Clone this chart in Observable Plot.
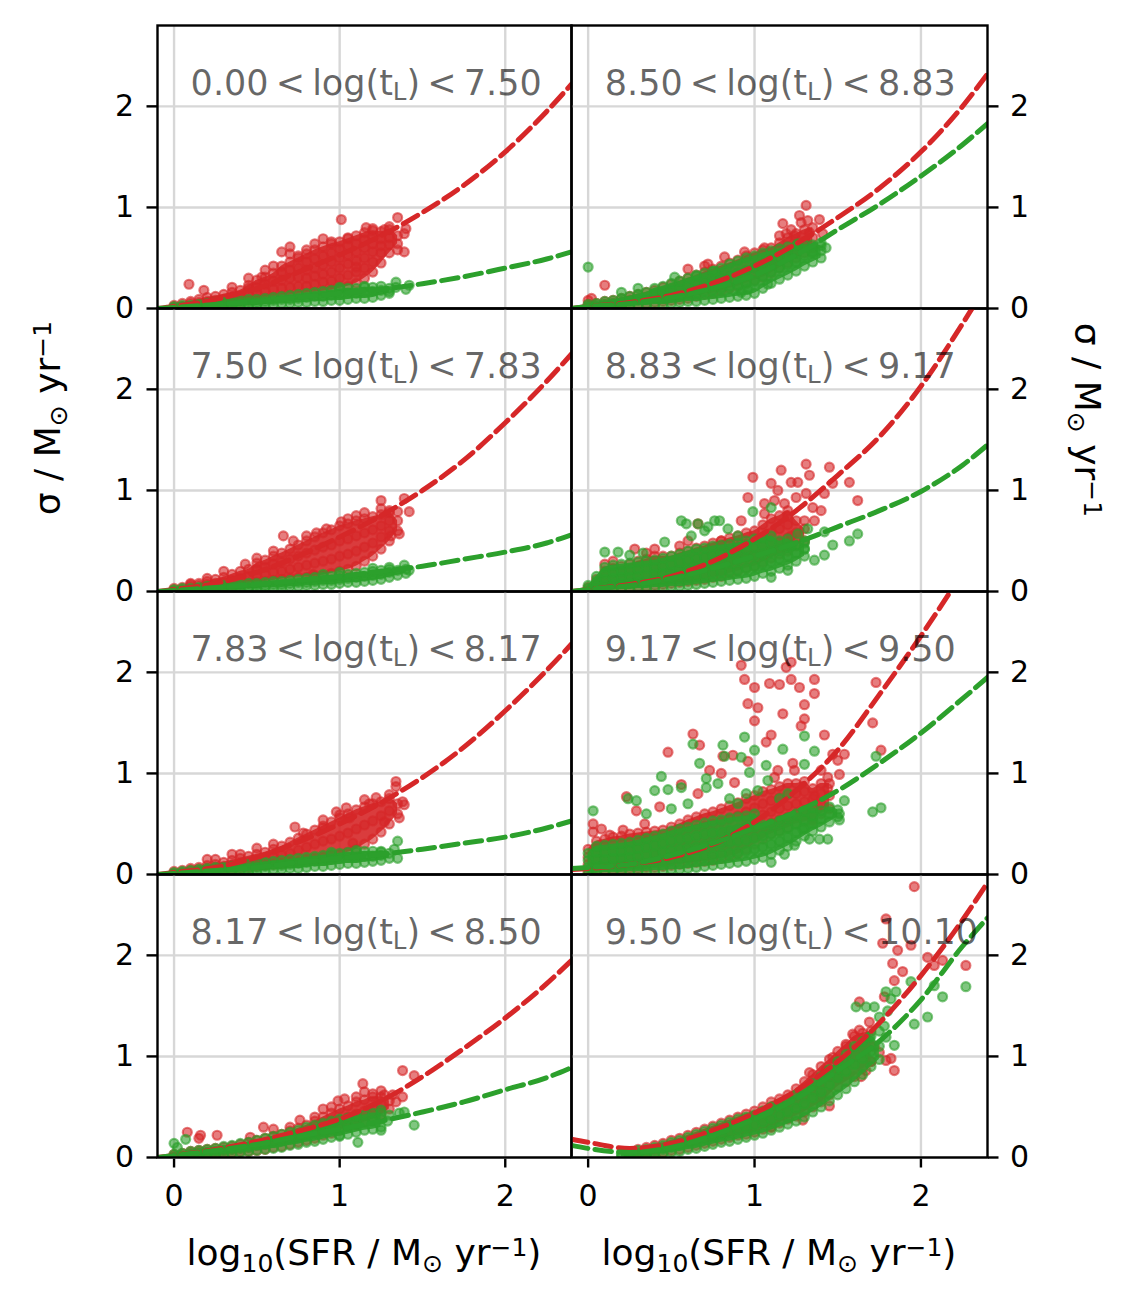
<!DOCTYPE html>
<html><head><meta charset="utf-8">
<script src="https://cdn.jsdelivr.net/npm/d3@7"></script>
<script src="https://cdn.jsdelivr.net/npm/@observablehq/plot@0.6"></script>
<style>
body{margin:0;background:#fff;}
#fig{position:relative;width:1135px;height:1302px;background:#fff;overflow:hidden;font-family:"DejaVu Sans",sans-serif;}
#fig svg [aria-label^="x-axis"] line,#fig svg [aria-label^="x-axis"] path,#fig svg [aria-label^="y-axis"] line,#fig svg [aria-label^="y-axis"] path{stroke-width:2.4px;}
</style></head><body><div id="fig"></div>
<script>
const RED = "#d62728", GREEN = "#2ca02c";
const xTicks = [0, 1, 2];
const yTicks = [0, 1, 2];
const binLow = ["0.00", "7.50", "7.83", "8.17", "8.50", "8.83", "9.17", "9.50"];
const binHigh = ["7.50", "7.83", "8.17", "8.50", "8.83", "9.17", "9.50", "10.10"];

// dashed fit curves, read at these x positions
const lineX = [-0.1, 0, 0.25, 0.5, 0.75, 1, 1.25, 1.5, 1.75, 2, 2.25, 2.4];
const redFitY = [
  [0.0, 0.02, 0.09, 0.2, 0.36, 0.53, 0.72, 0.95, 1.22, 1.55, 1.95, 2.22],
  [0.0, 0.02, 0.08, 0.19, 0.35, 0.54, 0.75, 1.0, 1.3, 1.67, 2.08, 2.35],
  [0.0, 0.02, 0.07, 0.17, 0.32, 0.5, 0.71, 0.96, 1.26, 1.62, 2.02, 2.28],
  [0.0, 0.02, 0.08, 0.16, 0.26, 0.38, 0.56, 0.8, 1.08, 1.38, 1.72, 1.95],
  [0.0, 0.02, 0.06, 0.13, 0.25, 0.42, 0.64, 0.9, 1.19, 1.55, 2.0, 2.32],
  [0.0, 0.02, 0.07, 0.15, 0.3, 0.52, 0.8, 1.15, 1.53, 2.03, 2.65, 3.05],
  [0.05, 0.06, 0.1, 0.17, 0.3, 0.52, 0.83, 1.23, 1.78, 2.36, 2.99, 3.4],
  [0.18, 0.15, 0.09, 0.14, 0.27, 0.44, 0.66, 0.95, 1.33, 1.8, 2.35, 2.72]
];
const greenFitY = [
  [0.0, 0.01, 0.04, 0.07, 0.11, 0.15, 0.19, 0.245, 0.315, 0.4, 0.49, 0.56],
  [0.0, 0.01, 0.04, 0.07, 0.11, 0.15, 0.2, 0.25, 0.32, 0.39, 0.48, 0.56],
  [0.0, 0.01, 0.04, 0.07, 0.12, 0.16, 0.2, 0.25, 0.31, 0.37, 0.46, 0.53],
  [0.0, 0.02, 0.07, 0.13, 0.21, 0.28, 0.36, 0.45, 0.55, 0.67, 0.79, 0.89],
  [0.0, 0.02, 0.05, 0.11, 0.2, 0.33, 0.53, 0.78, 1.03, 1.31, 1.62, 1.83],
  [0.0, 0.02, 0.06, 0.13, 0.23, 0.35, 0.48, 0.64, 0.8, 0.99, 1.25, 1.45],
  [0.06, 0.07, 0.1, 0.19, 0.31, 0.46, 0.62, 0.83, 1.1, 1.4, 1.74, 1.95],
  [0.12, 0.09, 0.05, 0.1, 0.22, 0.38, 0.58, 0.86, 1.15, 1.56, 2.09, 2.37]
];

// dense scatter clouds: each row is [x, y1, y2, ...]
const redCloud = [
  [[0,0.01,0.03],[0.05,0.02,0.05],[0.1,0.02,0.05,0.07],[0.15,0.03,0.06,0.09],[0.2,0.04,0.07,0.11],[0.25,0.04,0.08,0.12],[0.3,0.05,0.09,0.14],[0.35,0.06,0.11,0.16],[0.4,0.07,0.12,0.18],[0.45,0.08,0.14,0.2,0.23],[0.5,0.09,0.15,0.21,0.28],[0.55,0.1,0.17,0.24,0.31],[0.6,0.11,0.19,0.27,0.35],[0.65,0.12,0.2,0.28,0.36,0.42],[0.7,0.13,0.21,0.3,0.38,0.46],[0.75,0.14,0.22,0.31,0.4,0.5],[0.8,0.15,0.22,0.3,0.38,0.46,0.54],[0.85,0.16,0.24,0.32,0.4,0.49,0.58],[0.9,0.17,0.26,0.34,0.43,0.52,0.61],[0.95,0.18,0.27,0.36,0.46,0.55,0.64],[1,0.2,0.3,0.4,0.5,0.59,0.66],[1.05,0.22,0.33,0.44,0.53,0.62,0.69],[1.1,0.25,0.36,0.47,0.56,0.64,0.72],[1.15,0.3,0.4,0.5,0.6,0.68,0.75],[1.2,0.36,0.46,0.56,0.64,0.71,0.77],[1.25,0.45,0.55,0.62,0.69,0.76],[1.3,0.55,0.63,0.7,0.78],[1.35,0.64,0.72]],
  [[0,0.01,0.03],[0.05,0.02,0.04],[0.1,0.02,0.05,0.07],[0.15,0.03,0.06,0.08],[0.2,0.03,0.07,0.1],[0.25,0.04,0.08,0.12],[0.3,0.05,0.09,0.14],[0.35,0.06,0.11,0.17],[0.4,0.07,0.13,0.2],[0.45,0.08,0.15,0.22],[0.5,0.09,0.16,0.22,0.28],[0.55,0.1,0.17,0.24,0.31],[0.6,0.11,0.19,0.27,0.35],[0.65,0.12,0.2,0.29,0.38],[0.7,0.13,0.22,0.32,0.42],[0.75,0.14,0.24,0.35,0.46],[0.8,0.14,0.26,0.38,0.5],[0.85,0.15,0.28,0.41,0.54],[0.9,0.16,0.3,0.44,0.58],[0.95,0.18,0.32,0.46,0.61],[1,0.2,0.35,0.5,0.65],[1.05,0.22,0.37,0.52,0.67],[1.1,0.25,0.4,0.55,0.7],[1.15,0.3,0.44,0.58,0.72],[1.2,0.35,0.48,0.61,0.74],[1.25,0.42,0.54,0.65,0.76],[1.3,0.5,0.6,0.7,0.78],[1.35,0.6,0.7]],
  [[0,0.01,0.03],[0.05,0.02,0.04],[0.1,0.02,0.04,0.06],[0.15,0.03,0.05,0.07],[0.2,0.03,0.06,0.09],[0.25,0.04,0.07,0.1],[0.3,0.05,0.08,0.12],[0.35,0.05,0.09,0.14],[0.4,0.06,0.11,0.16],[0.45,0.07,0.12,0.18],[0.5,0.08,0.14,0.2],[0.55,0.09,0.16,0.22],[0.6,0.1,0.17,0.25],[0.65,0.11,0.19,0.28],[0.7,0.12,0.21,0.32],[0.75,0.13,0.24,0.36],[0.8,0.15,0.27,0.4],[0.85,0.16,0.3,0.44],[0.9,0.17,0.33,0.48],[0.95,0.19,0.35,0.52],[1,0.2,0.38,0.56],[1.05,0.22,0.41,0.6],[1.1,0.25,0.45,0.64],[1.15,0.3,0.49,0.67],[1.2,0.35,0.53,0.7],[1.25,0.42,0.58,0.72],[1.3,0.5,0.63,0.75],[1.35,0.6,0.7]],
  [[0,0.01,0.03],[0.05,0.02,0.04],[0.1,0.02,0.04,0.06],[0.15,0.02,0.05,0.07],[0.2,0.03,0.05,0.08],[0.25,0.03,0.06,0.09],[0.3,0.04,0.07,0.1],[0.35,0.05,0.08,0.11],[0.4,0.06,0.09,0.13],[0.45,0.06,0.1,0.15],[0.5,0.07,0.12,0.17],[0.55,0.08,0.13,0.19],[0.6,0.1,0.15,0.21],[0.65,0.11,0.17,0.23],[0.7,0.13,0.19,0.26],[0.75,0.15,0.21,0.29],[0.8,0.17,0.24,0.32],[0.85,0.19,0.27,0.36],[0.9,0.22,0.31,0.4],[0.95,0.24,0.34,0.44],[1,0.27,0.37,0.48],[1.05,0.3,0.4,0.51],[1.1,0.32,0.43,0.55],[1.15,0.35,0.46,0.57],[1.2,0.38,0.49,0.6],[1.25,0.42,0.52,0.6],[1.3,0.48,0.56]],
  [[0,0.01,0.04],[0.05,0.02,0.05],[0.1,0.02,0.04,0.07],[0.15,0.03,0.05,0.08],[0.2,0.03,0.06,0.1],[0.25,0.04,0.08,0.12],[0.3,0.04,0.09,0.14],[0.35,0.05,0.1,0.16],[0.4,0.06,0.12,0.18],[0.45,0.07,0.14,0.21],[0.5,0.08,0.16,0.24],[0.55,0.09,0.18,0.27],[0.6,0.1,0.2,0.3],[0.65,0.12,0.22,0.33],[0.7,0.14,0.25,0.36],[0.75,0.15,0.27,0.39],[0.8,0.17,0.29,0.42],[0.85,0.2,0.32,0.45],[0.9,0.22,0.35,0.48],[0.95,0.25,0.38,0.52],[1,0.28,0.41,0.55],[1.05,0.31,0.45,0.58],[1.1,0.35,0.48,0.6],[1.15,0.4,0.53,0.65],[1.2,0.45,0.58,0.7],[1.25,0.5,0.63,0.74],[1.3,0.55,0.67,0.78],[1.35,0.6,0.7,0.8]],
  [[0,0.01,0.04],[0.05,0.02,0.07,0.12],[0.1,0.03,0.09,0.15,0.2],[0.15,0.03,0.1,0.17,0.23],[0.2,0.04,0.11,0.18,0.25],[0.25,0.04,0.12,0.2,0.27],[0.3,0.05,0.13,0.21,0.3],[0.35,0.05,0.14,0.23,0.32],[0.4,0.06,0.15,0.25,0.35],[0.45,0.07,0.16,0.25,0.35],[0.5,0.08,0.17,0.26,0.35],[0.55,0.09,0.18,0.28,0.38],[0.6,0.1,0.2,0.3,0.4],[0.65,0.11,0.22,0.33,0.43],[0.7,0.12,0.23,0.34,0.45],[0.75,0.14,0.25,0.36,0.48],[0.8,0.15,0.27,0.39,0.5],[0.85,0.18,0.3,0.41,0.53],[0.9,0.2,0.32,0.44,0.55],[0.95,0.23,0.35,0.47,0.58],[1,0.25,0.37,0.49,0.6],[1.05,0.29,0.41,0.53,0.66],[1.1,0.33,0.45,0.58,0.72],[1.15,0.37,0.49,0.62,0.75],[1.2,0.4,0.53,0.66,0.8],[1.25,0.45,0.58,0.7],[1.3,0.5,0.62]],
  [[0,0.03,0.1,0.17,0.25],[0.05,0.04,0.11,0.18,0.26,0.33],[0.1,0.04,0.12,0.2,0.28,0.35],[0.15,0.05,0.13,0.21,0.29,0.37],[0.2,0.05,0.14,0.22,0.3,0.38],[0.25,0.06,0.14,0.23,0.31,0.4],[0.3,0.06,0.15,0.24,0.32,0.41],[0.35,0.07,0.16,0.25,0.33,0.42],[0.4,0.07,0.16,0.25,0.34,0.43],[0.45,0.08,0.17,0.26,0.35,0.44],[0.5,0.09,0.18,0.28,0.37,0.47],[0.55,0.1,0.2,0.3,0.4,0.5],[0.6,0.11,0.21,0.32,0.43,0.54],[0.65,0.12,0.23,0.34,0.45,0.57],[0.7,0.13,0.24,0.36,0.48,0.6],[0.75,0.14,0.26,0.38,0.5,0.62],[0.8,0.16,0.28,0.4,0.52,0.65],[0.85,0.18,0.3,0.42,0.55,0.68],[0.9,0.2,0.32,0.45,0.58,0.71],[0.95,0.25,0.37,0.5,0.62,0.75],[1,0.3,0.42,0.54,0.66,0.78],[1.05,0.35,0.47,0.59,0.7,0.82],[1.1,0.4,0.51,0.62,0.73,0.84],[1.15,0.43,0.54,0.65,0.76,0.87],[1.2,0.46,0.57,0.68,0.79,0.9],[1.25,0.5,0.6,0.7,0.8,0.9],[1.3,0.52,0.62,0.72,0.82,0.92],[1.35,0.55,0.65,0.75,0.85],[1.4,0.6,0.7,0.8,0.9],[1.45,0.65,0.78,0.9]],
  [[0.25,0.02,0.05],[0.3,0.02,0.05,0.08],[0.35,0.03,0.06,0.1],[0.4,0.04,0.08,0.12],[0.45,0.05,0.1,0.14],[0.5,0.07,0.12,0.17],[0.55,0.08,0.13,0.19],[0.6,0.1,0.16,0.22],[0.65,0.12,0.18,0.25],[0.7,0.14,0.21,0.28],[0.75,0.16,0.23,0.31],[0.8,0.18,0.26,0.34],[0.85,0.2,0.28,0.37],[0.9,0.22,0.31,0.4],[0.95,0.23,0.33,0.43],[1,0.25,0.35,0.46],[1.05,0.28,0.39,0.5],[1.1,0.3,0.42,0.55],[1.15,0.34,0.46,0.58],[1.2,0.38,0.5,0.62],[1.25,0.41,0.54,0.68],[1.3,0.45,0.59,0.75],[1.35,0.5,0.66,0.82],[1.4,0.55,0.72,0.9],[1.45,0.62,0.8,0.97],[1.5,0.7,0.87,1.05],[1.55,0.75,0.94,1.12],[1.6,0.8,1.0,1.2],[1.65,0.88,1.06,1.23],[1.7,0.95,1.1,1.25]]
];
const greenCloud = [
  [[0,0,0.02],[0.05,0.01,0.03],[0.1,0.01,0.03],[0.15,0.01,0.04],[0.2,0.01,0.03,0.05],[0.25,0.02,0.04,0.06],[0.3,0.02,0.04,0.06],[0.35,0.02,0.05,0.07],[0.4,0.02,0.05,0.08],[0.45,0.03,0.06,0.09],[0.5,0.03,0.06,0.09],[0.55,0.04,0.07,0.1],[0.6,0.04,0.08,0.11],[0.65,0.05,0.09,0.12],[0.7,0.05,0.09,0.13],[0.75,0.06,0.1,0.14],[0.8,0.06,0.11,0.15],[0.85,0.07,0.12,0.16],[0.9,0.07,0.12,0.17],[0.95,0.08,0.13,0.18],[1,0.08,0.14,0.19],[1.05,0.09,0.15,0.2],[1.1,0.1,0.15,0.2],[1.15,0.1,0.16,0.21],[1.2,0.11,0.17,0.21],[1.25,0.13,0.18],[1.3,0.15,0.2]],
  [[0,0,0.02],[0.05,0.01,0.03],[0.1,0.01,0.03],[0.15,0.01,0.04],[0.2,0.01,0.03,0.05],[0.25,0.01,0.03,0.05],[0.3,0.02,0.04,0.06],[0.35,0.02,0.04,0.06],[0.4,0.02,0.05,0.07],[0.45,0.03,0.05,0.08],[0.5,0.03,0.06,0.08],[0.55,0.04,0.06,0.09],[0.6,0.04,0.07,0.1],[0.65,0.04,0.07,0.1],[0.7,0.05,0.08,0.11],[0.75,0.05,0.09,0.12],[0.8,0.06,0.09,0.13],[0.85,0.06,0.1,0.14],[0.9,0.07,0.11,0.14],[0.95,0.07,0.11,0.15],[1,0.08,0.12,0.16],[1.05,0.09,0.13,0.17],[1.1,0.09,0.14,0.18],[1.15,0.1,0.15,0.19],[1.2,0.11,0.16,0.2],[1.25,0.12,0.17,0.21],[1.3,0.14,0.19,0.22],[1.35,0.16,0.21],[1.4,0.18,0.22]],
  [[0,0,0.02],[0.05,0.01,0.03],[0.1,0.01,0.04],[0.15,0.01,0.03,0.05],[0.2,0.01,0.04,0.06],[0.25,0.02,0.04,0.07],[0.3,0.02,0.05,0.07],[0.35,0.02,0.05,0.08],[0.4,0.03,0.06,0.09],[0.45,0.03,0.06,0.1],[0.5,0.04,0.07,0.11],[0.55,0.04,0.08,0.12],[0.6,0.05,0.09,0.13],[0.65,0.05,0.09,0.14],[0.7,0.06,0.1,0.15],[0.75,0.06,0.11,0.16],[0.8,0.07,0.12,0.17],[0.85,0.08,0.13,0.18],[0.9,0.08,0.14,0.19],[0.95,0.09,0.15,0.2],[1,0.1,0.16,0.21],[1.05,0.11,0.17,0.22],[1.1,0.11,0.17,0.22],[1.15,0.12,0.18,0.23],[1.2,0.13,0.18,0.23],[1.25,0.14,0.19,0.23],[1.3,0.16,0.21]],
  [[0,0,0.03],[0.05,0.01,0.04],[0.1,0.01,0.03,0.06],[0.15,0.01,0.04,0.07],[0.2,0.02,0.05,0.08],[0.25,0.02,0.06,0.09],[0.3,0.03,0.07,0.11],[0.35,0.04,0.08,0.12],[0.4,0.05,0.09,0.14],[0.45,0.06,0.1,0.15],[0.5,0.07,0.12,0.17],[0.55,0.08,0.13,0.19],[0.6,0.09,0.15,0.21],[0.65,0.1,0.17,0.23],[0.7,0.12,0.18,0.25],[0.75,0.13,0.2,0.27],[0.8,0.15,0.22,0.3],[0.85,0.16,0.24,0.32],[0.9,0.18,0.26,0.34],[0.95,0.2,0.28,0.36],[1,0.21,0.29,0.38],[1.05,0.23,0.31,0.39],[1.1,0.25,0.33,0.41],[1.15,0.27,0.35,0.42],[1.2,0.28,0.36,0.44],[1.25,0.3,0.38,0.44]],
  [[0,0,0.02,0.04],[0.05,0.01,0.03,0.05],[0.1,0.01,0.04,0.07],[0.15,0.01,0.05,0.08],[0.2,0.02,0.06,0.1],[0.25,0.02,0.07,0.12],[0.3,0.03,0.08,0.14],[0.35,0.03,0.09,0.16],[0.4,0.04,0.1,0.15,0.2],[0.45,0.04,0.1,0.16,0.22],[0.5,0.05,0.11,0.18,0.25],[0.55,0.06,0.12,0.19,0.27],[0.6,0.07,0.14,0.22,0.3],[0.65,0.07,0.15,0.24,0.32],[0.7,0.08,0.17,0.26,0.35],[0.75,0.09,0.18,0.28,0.37],[0.8,0.1,0.2,0.3,0.4],[0.85,0.11,0.22,0.33,0.44],[0.9,0.12,0.23,0.35,0.47],[0.95,0.13,0.25,0.37,0.5],[1,0.15,0.27,0.4,0.52],[1.05,0.2,0.32,0.44,0.55],[1.1,0.25,0.36,0.47,0.57],[1.15,0.29,0.4,0.5,0.59],[1.2,0.33,0.43,0.52,0.61],[1.25,0.37,0.46,0.55,0.62],[1.3,0.42,0.52,0.63],[1.35,0.46,0.55,0.63],[1.4,0.5,0.57,0.62]],
  [[0,0,0.03,0.06],[0.05,0.01,0.05,0.1,0.15],[0.1,0.01,0.06,0.12,0.18,0.24],[0.15,0.02,0.07,0.13,0.19,0.26],[0.2,0.02,0.08,0.14,0.2,0.27],[0.25,0.02,0.08,0.14,0.21,0.28],[0.3,0.03,0.09,0.15,0.22,0.29],[0.35,0.03,0.09,0.16,0.23,0.3],[0.4,0.04,0.1,0.17,0.24,0.31],[0.45,0.04,0.11,0.18,0.25,0.33],[0.5,0.05,0.12,0.19,0.27,0.35],[0.55,0.05,0.13,0.21,0.29,0.37],[0.6,0.06,0.14,0.22,0.31,0.4],[0.65,0.07,0.15,0.24,0.33,0.42],[0.7,0.08,0.16,0.25,0.34,0.43],[0.75,0.09,0.18,0.27,0.36,0.45],[0.8,0.1,0.19,0.28,0.37,0.46],[0.85,0.11,0.2,0.29,0.38,0.47],[0.9,0.12,0.21,0.31,0.4,0.48],[0.95,0.13,0.23,0.33,0.42,0.5],[1,0.15,0.25,0.35,0.44,0.52],[1.05,0.18,0.27,0.37,0.46,0.53],[1.1,0.2,0.29,0.39,0.48,0.55],[1.15,0.23,0.32,0.41,0.5],[1.2,0.26,0.35,0.44,0.52],[1.25,0.3,0.38,0.46],[1.3,0.35,0.42,0.48]],
  [[0,0.01,0.07,0.14,0.21],[0.05,0.01,0.08,0.15,0.22,0.28],[0.1,0.02,0.08,0.15,0.22,0.29],[0.15,0.02,0.09,0.16,0.23,0.3],[0.2,0.02,0.09,0.16,0.23,0.31],[0.25,0.03,0.1,0.17,0.24,0.32],[0.3,0.03,0.1,0.18,0.26,0.34],[0.35,0.03,0.11,0.19,0.27,0.36],[0.4,0.04,0.12,0.2,0.29,0.38],[0.45,0.04,0.13,0.22,0.31,0.4],[0.5,0.05,0.14,0.23,0.33,0.43],[0.55,0.05,0.15,0.25,0.35,0.45],[0.6,0.06,0.16,0.26,0.36,0.47],[0.65,0.07,0.17,0.27,0.38,0.49],[0.7,0.08,0.18,0.29,0.4,0.51],[0.75,0.09,0.19,0.3,0.41,0.53],[0.8,0.1,0.2,0.31,0.42,0.54],[0.85,0.11,0.21,0.32,0.44,0.56],[0.9,0.12,0.22,0.33,0.45,0.57],[0.95,0.13,0.23,0.34,0.46,0.58],[1,0.15,0.25,0.36,0.47,0.6],[1.05,0.17,0.27,0.38,0.49],[1.1,0.2,0.3,0.4,0.5],[1.15,0.24,0.33,0.43,0.53],[1.2,0.28,0.37,0.46,0.56],[1.25,0.33,0.42,0.5,0.6],[1.3,0.38,0.46,0.54,0.63],[1.35,0.43,0.5,0.58,0.66],[1.4,0.47,0.55,0.63],[1.45,0.52,0.6,0.67],[1.5,0.57,0.64]],
  [[0.2,0.01,0.04],[0.25,0.01,0.03,0.05],[0.3,0.02,0.04,0.07],[0.35,0.02,0.05,0.08],[0.4,0.03,0.06,0.1],[0.45,0.04,0.08,0.12],[0.5,0.05,0.1,0.15],[0.55,0.06,0.12,0.17],[0.6,0.08,0.14,0.2],[0.65,0.09,0.16,0.23],[0.7,0.11,0.18,0.26],[0.75,0.13,0.21,0.29],[0.8,0.15,0.23,0.32],[0.85,0.16,0.25,0.35],[0.9,0.18,0.28,0.38],[0.95,0.2,0.3,0.4],[1,0.22,0.32,0.42],[1.05,0.24,0.35,0.46],[1.1,0.27,0.38,0.5],[1.15,0.3,0.42,0.53],[1.2,0.33,0.45,0.57],[1.25,0.36,0.49,0.62],[1.3,0.4,0.53,0.67],[1.35,0.45,0.59,0.73],[1.4,0.5,0.65,0.8],[1.45,0.56,0.72,0.87],[1.5,0.62,0.79,0.95],[1.55,0.68,0.85,1.02],[1.6,0.75,0.92,1.1],[1.65,0.82,0.98,1.15],[1.7,0.9,1.05,1.2],[1.75,0.97,1.1]]
];

// individual outlying points [x, y]
const redOut = [
  [[0.09,0.24],[0.18,0.18],[0.35,0.21],[0.53,0.31],[1.35,0.9],[1.4,0.79],[1.39,0.74],[1.35,0.58],[1.39,0.56],[1.01,0.88],[0.9,0.69],[0.85,0.64],[0.7,0.61],[0.65,0.56],[0.7,0.54],[1.1,0.41],[1.16,0.8],[1.05,0.7],[0.8,0.58],[0.75,0.52],[0.95,0.66],[1.2,0.79],[1.27,0.78],[1.3,0.81],[0.55,0.38],[0.6,0.42],[0.45,0.3]],
  [[0.1,0.08],[0.2,0.13],[0.3,0.2],[0.43,0.27],[0.5,0.33],[0.6,0.4],[0.84,0.17],[1.31,0.55],[1.36,0.57],[1.42,0.79],[1.39,0.92],[1.25,0.9],[1.25,0.82],[0.92,0.62],[1.01,0.69],[0.66,0.55],[0.72,0.5],[0.8,0.55],[0.86,0.58],[1.1,0.75],[1.15,0.78],[1.3,0.8],[1.35,0.79],[1.05,0.72]],
  [[0.2,0.15],[0.25,0.15],[0.35,0.2],[0.4,0.2],[0.5,0.26],[0.6,0.3],[0.73,0.47],[0.78,0.41],[0.9,0.46],[0.9,0.54],[1.0,0.59],[1.04,0.66],[1.06,0.56],[1.15,0.74],[1.22,0.76],[1.34,0.92],[1.34,0.87],[1.36,0.56],[1.27,0.52],[1.08,0.31],[1.39,0.69],[1.38,0.72],[1.3,0.79],[1.18,0.7],[0.98,0.62]],
  [[0.08,0.25],[0.15,0.19],[0.16,0.22],[0.26,0.22],[0.46,0.2],[0.54,0.3],[0.6,0.28],[0.7,0.3],[0.76,0.37],[0.85,0.4],[0.9,0.48],[0.95,0.5],[0.99,0.56],[1.03,0.58],[1.1,0.6],[1.14,0.73],[1.15,0.65],[1.2,0.63],[1.25,0.66],[1.27,0.62],[1.32,0.62],[1.34,0.55],[1.38,0.6],[1.38,0.86],[1.45,0.81]],
  [[0.0,0.08],[0.02,0.1],[0.1,0.23],[0.6,0.39],[0.7,0.42],[0.72,0.44],[0.82,0.51],[0.94,0.56],[1.06,0.6],[1.15,0.72],[1.17,0.84],[1.19,0.74],[1.22,0.78],[1.24,0.72],[1.27,0.92],[1.28,0.85],[1.31,1.02],[1.32,0.87],[1.33,0.75],[1.39,0.88],[1.41,0.74]],
  [[0.1,0.27],[0.15,0.3],[0.28,0.42],[0.35,0.38],[0.4,0.42],[0.55,0.45],[0.6,0.5],[0.66,0.67],[0.8,0.5],[0.92,0.7],[0.96,0.93],[0.99,1.13],[1.06,0.87],[1.06,0.77],[1.1,1.07],[1.12,0.9],[1.14,1.0],[1.16,1.2],[1.18,0.87],[1.2,0.75],[1.22,1.08],[1.22,0.55],[1.25,0.93],[1.26,1.08],[1.3,0.7],[1.31,1.26],[1.31,0.97],[1.33,1.15],[1.35,0.83],[1.36,0.7],[1.4,0.8],[1.42,0.97],[1.45,1.23],[1.47,1.07],[1.57,1.08],[1.62,0.9]],
  [[0.92,2.07],[1.22,2.1],[1.19,2.05],[0.94,1.93],[1.0,1.85],[1.09,1.89],[1.15,1.88],[1.22,1.93],[1.27,1.85],[1.36,1.93],[1.36,1.79],[0.96,1.69],[1.02,1.65],[1.3,1.68],[1.17,1.59],[1.0,1.52],[1.3,1.54],[1.28,1.47],[1.73,1.9],[1.71,1.5],[0.63,1.39],[0.67,1.28],[1.1,1.38],[1.07,1.31],[1.42,1.38],[1.76,1.23],[0.48,1.21],[0.81,1.17],[0.87,1.18],[0.96,1.12],[1.23,1.1],[1.14,1.03],[1.47,1.19],[1.5,1.13],[1.54,1.19],[0.73,1.03],[0.8,1.0],[0.88,0.91],[0.56,0.89],[0.23,0.77],[0.29,0.63],[0.43,0.67],[0.66,0.8],[1.4,1.03],[1.44,0.96],[1.51,0.99],[1.36,0.78],[1.44,0.85],[1.35,0.53],[0.03,0.42],[0.03,0.5],[0.08,0.45],[0.13,0.39],[0.21,0.44],[0.34,0.5],[1.12,0.96],[1.24,1.03]],
  [[1.1,0.3],[1.2,0.4],[1.29,0.37],[1.4,0.6],[1.45,0.51],[1.5,0.8],[1.33,0.84],[1.43,0.86],[1.47,0.99],[1.55,1.1],[1.59,1.22],[1.63,1.26],[1.63,1.54],[1.64,0.8],[1.67,0.86],[1.69,1.34],[1.7,0.95],[1.72,1.1],[1.75,1.04],[1.77,2.12],[1.78,1.59],[1.79,0.96],[1.79,2.36],[1.82,0.98],[1.83,1.92],[1.84,0.86],[1.84,1.75],[1.86,2.05],[1.89,1.84],[1.94,2.1],[1.96,2.68],[2.04,1.98],[2.08,1.9],[2.13,1.95],[2.27,1.9]]
];
const greenOut = [
  [[1.0,0.21],[1.15,0.22],[1.25,0.22],[1.3,0.17],[1.34,0.26],[1.34,0.21],[1.4,0.19],[1.42,0.23]],
  [[0.9,0.17],[1.0,0.19],[1.2,0.23],[1.3,0.24],[1.39,0.26],[1.42,0.21]],
  [[0.95,0.22],[1.1,0.24],[1.25,0.22],[1.33,0.25],[1.35,0.33],[1.35,0.16]],
  [[0.0,0.14],[0.02,0.1],[0.07,0.18],[1.0,0.22],[1.11,0.15],[1.25,0.27],[1.25,0.47],[1.29,0.36],[1.3,0.42],[1.36,0.44],[1.39,0.45],[1.45,0.32]],
  [[0.0,0.41],[0.2,0.16],[0.3,0.2],[0.52,0.31],[0.65,0.33],[0.76,0.37],[0.92,0.16],[0.96,0.19],[1.08,0.24],[1.26,0.64],[1.35,0.56],[1.4,0.65],[1.43,0.6]],
  [[0.1,0.39],[0.18,0.39],[0.25,0.36],[0.33,0.38],[0.46,0.49],[0.56,0.7],[0.59,0.67],[0.62,0.55],[0.66,0.67],[0.7,0.6],[0.72,0.64],[0.76,0.7],[0.79,0.7],[0.84,0.62],[0.9,0.55],[0.99,0.79],[1.1,0.83],[1.1,0.14],[1.2,0.21],[1.22,0.45],[1.26,0.57],[1.3,0.42],[1.3,0.5],[1.32,0.62],[1.36,0.31],[1.42,0.36],[1.42,0.59],[1.47,0.46],[1.57,0.5],[1.62,0.57]],
  [[0.03,0.63],[0.24,0.75],[0.29,0.73],[0.35,0.6],[0.4,0.83],[0.44,0.97],[0.48,0.84],[0.5,0.65],[0.56,0.86],[0.6,0.7],[0.63,1.29],[0.67,1.1],[0.71,0.95],[0.71,0.86],[0.78,0.9],[0.81,1.28],[0.82,1.17],[0.85,0.75],[0.9,0.7],[0.92,1.16],[0.94,1.36],[0.95,0.8],[0.97,1.01],[1.0,1.23],[1.02,0.83],[1.07,1.08],[1.08,0.93],[1.1,0.12],[1.15,0.75],[1.17,1.24],[1.18,0.2],[1.2,0.8],[1.24,0.29],[1.29,0.45],[1.3,1.37],[1.3,1.09],[1.33,0.35],[1.36,1.22],[1.39,0.35],[1.44,0.35],[1.51,0.6],[1.51,0.54],[1.54,0.73],[1.71,0.62],[1.73,1.17],[1.76,0.66]],
  [[1.61,1.49],[1.67,1.49],[1.69,1.19],[1.72,1.49],[1.75,1.39],[1.75,1.25],[1.78,1.3],[1.79,1.64],[1.79,1.19],[1.8,1.45],[1.82,1.57],[1.84,1.11],[1.85,1.64],[1.94,1.74],[1.96,1.32],[2.04,1.39],[2.08,1.7],[2.13,1.59],[2.27,1.69]]
];

const toPts = (rows, out) => rows.flatMap(([x, ...ys]) => ys.map(y => ({x, y}))).concat(out.map(([x, y]) => ({x, y})));
const toBand = rows => rows.map(([x, ...ys]) => ({x, lo: d3.min(ys), hi: d3.max(ys)}));
const NS = "http://www.w3.org/2000/svg";
const fig = document.getElementById("fig");

for (let i = 0; i < 8; i++) {
  const col = Math.floor(i / 4), row = i % 4;
  const fx0 = col ? 571 : 157, fx1 = col ? 987 : 571;
  const fy0 = 25 + row * 283, fy1 = fy0 + 283;
  const mL = col ? 3 : 80, mR = col ? 80 : 3, mT = 20, mB = row === 3 ? 70 : 20;
  const redPts = toPts(redCloud[i], redOut[i]);
  const greenPts = toPts(greenCloud[i], greenOut[i]);
  const fitR = lineX.map((x, k) => ({x, y: redFitY[i][k]}));
  const fitG = lineX.map((x, k) => ({x, y: greenFitY[i][k]}));
  const dotOpts = c => ({x: "x", y: "y", r: 4.5, fill: c, fillOpacity: 0.6, stroke: c, strokeOpacity: 0.6, strokeWidth: 2.2});
  const areaOpts = c => ({x: "x", y1: "lo", y2: "hi", fill: c, fillOpacity: 0.9, curve: "monotone-x"});
  const lineOpts = c => ({x: "x", y: "y", stroke: c, strokeWidth: 5, strokeDasharray: "16.6,7.2", curve: "monotone-x"});
  const svg = Plot.plot({
    width: fx1 - fx0 + mL + mR,
    height: fy1 - fy0 + mT + mB,
    marginLeft: mL, marginRight: mR, marginTop: mT, marginBottom: mB,
    style: {fontFamily: "'DejaVu Sans', sans-serif", fontSize: "30px", color: "#000", background: "transparent", overflow: "visible"},
    x: {domain: [-0.1, 2.4], ticks: xTicks, tickFormat: d3.format("d"), tickSize: 10.5, tickPadding: 17, axis: row === 3 ? "bottom" : null, label: null},
    y: {domain: [0, 2.8], ticks: yTicks, tickFormat: d3.format("d"), tickSize: 10.5, tickPadding: col ? 12 : 13, axis: col ? "right" : "left", label: null},
    marks: [
      Plot.ruleX(xTicks, {x: d => d, stroke: "#d7d7d7", strokeWidth: 2.4}),
      Plot.ruleY(yTicks, {y: d => d, stroke: "#d7d7d7", strokeWidth: 2.4}),
      Plot.areaY(toBand(redCloud[i]), areaOpts(RED)),
      Plot.dot(redPts, dotOpts(RED)),
      Plot.areaY(toBand(greenCloud[i]), areaOpts(GREEN)),
      Plot.dot(greenPts, dotOpts(GREEN)),
      Plot.line(fitR, lineOpts(RED)),
      Plot.line(fitG, lineOpts(GREEN)),
      Plot.text([binLow[i]], {x: 0.1, y: 2.09, text: d => d, textAnchor: "start", fontSize: 35, fill: "#000", fillOpacity: 0.6}),
      Plot.frame({stroke: "#000", strokeWidth: 2.4})
    ]
  });
  svg.style.position = "absolute";
  svg.style.left = (fx0 - mL) + "px";
  svg.style.top = (fy0 - mT) + "px";
  svg.style.maxWidth = "none";
  svg.style.overflow = "visible";
  // clip the data marks to the frame
  const cid = "panelclip" + i;
  const defs = document.createElementNS(NS, "defs");
  const cp = document.createElementNS(NS, "clipPath");
  cp.setAttribute("id", cid);
  const rect = document.createElementNS(NS, "rect");
  rect.setAttribute("x", mL); rect.setAttribute("y", mT);
  rect.setAttribute("width", fx1 - fx0); rect.setAttribute("height", fy1 - fy0);
  cp.appendChild(rect); defs.appendChild(cp); svg.insertBefore(defs, svg.firstChild);
  svg.querySelectorAll('g[aria-label="dot"], g[aria-label="line"], g[aria-label="area"]').forEach(g => g.setAttribute("clip-path", `url(#${cid})`));
  // bin label with subscript L
  const t = svg.querySelector('g[aria-label="text"] text');
  if (t) {
    t.setAttribute("dy", -13);
    t.setAttribute("word-spacing", "-4px");
    t.textContent = "";
    const add = (s, attrs = {}) => {
      const ts = document.createElementNS(NS, "tspan");
      ts.textContent = s;
      for (const k in attrs) ts.setAttribute(k, attrs[k]);
      t.appendChild(ts);
    };
    add(binLow[i] + " < log(t");
    add("L", {dy: 5, "font-size": 24.5});
    add(")", {dy: -5});
    add(" < " + binHigh[i]);
  }
  fig.appendChild(svg);
}

// axis titles
const ov = d3.select(fig).append("svg")
  .attr("width", 1135).attr("height", 1302)
  .style("position", "absolute").style("left", "0px").style("top", "0px")
  .style("pointer-events", "none")
  .attr("font-family", "'DejaVu Sans', sans-serif").attr("font-size", 36).attr("fill", "#000");
function mathText(g, parts) {
  const t = g.append("text").attr("text-anchor", "middle");
  let shift = 0;
  for (const [s, k] of parts) {
    const target = k === "sub" ? 7 : k === "sup" ? -9 : 0;
    t.append("tspan").attr("dy", target - shift).attr("font-size", k === "n" ? 36 : 25).text(s);
    shift = target;
  }
  return t;
}
const xTitle = [["log", "n"], ["10", "sub"], ["(SFR / M", "n"], ["⊙", "sub"], [" yr", "n"], ["−1", "sup"], [")", "n"]];
const yTitle = [["σ / M", "n"], ["⊙", "sub"], [" yr", "n"], ["−1", "sup"]];
mathText(ov.append("g").attr("transform", "translate(364,1265)"), xTitle);
mathText(ov.append("g").attr("transform", "translate(779,1265)"), xTitle);
mathText(ov.append("g").attr("transform", "translate(60,418) rotate(-90)"), yTitle);
mathText(ov.append("g").attr("transform", "translate(1075,420) rotate(90)"), yTitle);
</script></body></html>
